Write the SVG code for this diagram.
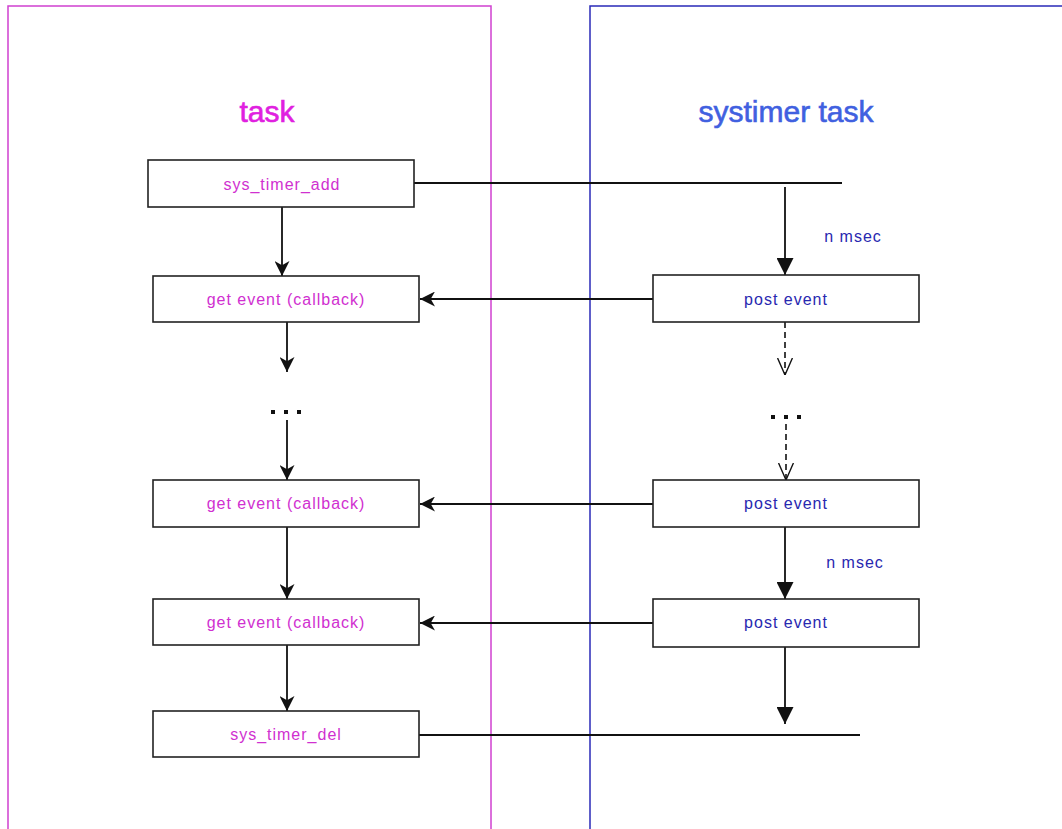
<svg xmlns="http://www.w3.org/2000/svg" width="1062" height="829" viewBox="0 0 1062 829">
<style>
.box{fill:#fff;stroke:#222;stroke-width:1.6}
.lt{font-family:"Liberation Sans",Arial,sans-serif;font-size:16px;letter-spacing:1px;fill:#d030d0;text-anchor:middle}
.rt{font-family:"Liberation Sans",Arial,sans-serif;font-size:16px;letter-spacing:1px;fill:#2828b0;text-anchor:middle}
.ln{stroke:#111;stroke-width:1.8;fill:none}
.dash{stroke:#111;stroke-width:1.6;fill:none;stroke-dasharray:6,4}
</style>
<defs>
<marker id="ah" viewBox="0 0 14 14" refX="14" refY="7" markerWidth="15" markerHeight="15" markerUnits="userSpaceOnUse" orient="auto">
<path d="M0,0 L14,7 L0,14 L4,7 Z" fill="#111"/>
</marker>
<marker id="tri" viewBox="0 0 14 14" refX="14" refY="7" markerWidth="17" markerHeight="17" markerUnits="userSpaceOnUse" orient="auto">
<path d="M0,0 L14,7 L0,14 Z" fill="#111"/>
</marker>
<marker id="open" viewBox="0 0 16 16" refX="16" refY="8" markerWidth="17" markerHeight="17" markerUnits="userSpaceOnUse" orient="auto">
<path d="M0,1 L16,8 L0,15" fill="none" stroke="#111" stroke-width="1.3"/>
</marker>
</defs>
<rect width="1062" height="829" fill="#fff"/>
<g id="lane-task">
<rect x="8" y="6" width="483" height="840" fill="none" stroke="#d040d0" stroke-width="1.5"/>
<text x="267" y="122" font-family="'Liberation Sans',Arial,sans-serif" font-size="30" fill="#e020e0" stroke="#e020e0" stroke-width="0.6" text-anchor="middle">task</text>
</g>
<g id="lane-systimer">
<rect x="590" y="6" width="500" height="840" fill="none" stroke="#2a2ab8" stroke-width="1.5"/>
<text x="786" y="122" font-family="'Liberation Sans',Arial,sans-serif" font-size="30" fill="#4060e0" stroke="#4060e0" stroke-width="0.6" text-anchor="middle">systimer task</text>
</g>
<g id="connectors">
<path class="ln" d="M414,183 H842"/>
<path class="ln" d="M785,187 V275" marker-end="url(#tri)"/>
<path class="ln" d="M282,207 V276" marker-end="url(#ah)"/>
<path class="ln" d="M653,299 H420" marker-end="url(#ah)"/>
<path class="ln" d="M287,322 V372" marker-end="url(#ah)"/>
<path class="dash" d="M785,322 V375" marker-end="url(#open)"/>
<path class="ln" d="M287,420 V480" marker-end="url(#ah)"/>
<path class="dash" d="M786,424 V480" marker-end="url(#open)"/>
<path class="ln" d="M653,504 H420" marker-end="url(#ah)"/>
<path class="ln" d="M287,527 V599" marker-end="url(#ah)"/>
<path class="ln" d="M785,527 V599" marker-end="url(#tri)"/>
<path class="ln" d="M653,623 H420" marker-end="url(#ah)"/>
<path class="ln" d="M287,645 V711" marker-end="url(#ah)"/>
<path class="ln" d="M785,647 V724" marker-end="url(#tri)"/>
<path class="ln" d="M419,735 H860"/>
</g>
<g id="dots-left" fill="#111">
<rect x="271" y="410" width="4" height="4"/>
<rect x="284" y="410" width="4" height="4"/>
<rect x="297" y="410" width="4" height="4"/>
</g>
<g id="dots-right" fill="#111">
<rect x="771" y="415" width="4" height="4"/>
<rect x="784" y="415" width="4" height="4"/>
<rect x="797" y="415" width="4" height="4"/>
</g>
<g id="label-nmsec-1"><text class="rt" x="853" y="242">n msec</text></g>
<g id="label-nmsec-2"><text class="rt" x="855" y="568">n msec</text></g>
<g id="sys_timer_add"><rect class="box" x="148" y="160" width="266" height="47"/><text class="lt" x="282" y="190">sys_timer_add</text></g>
<g id="get_event_1"><rect class="box" x="153" y="276" width="266" height="46"/><text class="lt" x="286" y="305">get event (callback)</text></g>
<g id="get_event_2"><rect class="box" x="153" y="480" width="266" height="47"/><text class="lt" x="286" y="509">get event (callback)</text></g>
<g id="get_event_3"><rect class="box" x="153" y="599" width="266" height="46"/><text class="lt" x="286" y="628">get event (callback)</text></g>
<g id="sys_timer_del"><rect class="box" x="153" y="711" width="266" height="46"/><text class="lt" x="286" y="740">sys_timer_del</text></g>
<g id="post_event_1"><rect class="box" x="653" y="275" width="266" height="47"/><text class="rt" x="786" y="305">post event</text></g>
<g id="post_event_2"><rect class="box" x="653" y="480" width="266" height="47"/><text class="rt" x="786" y="509">post event</text></g>
<g id="post_event_3"><rect class="box" x="653" y="599" width="266" height="48"/><text class="rt" x="786" y="628">post event</text></g>
</svg>
